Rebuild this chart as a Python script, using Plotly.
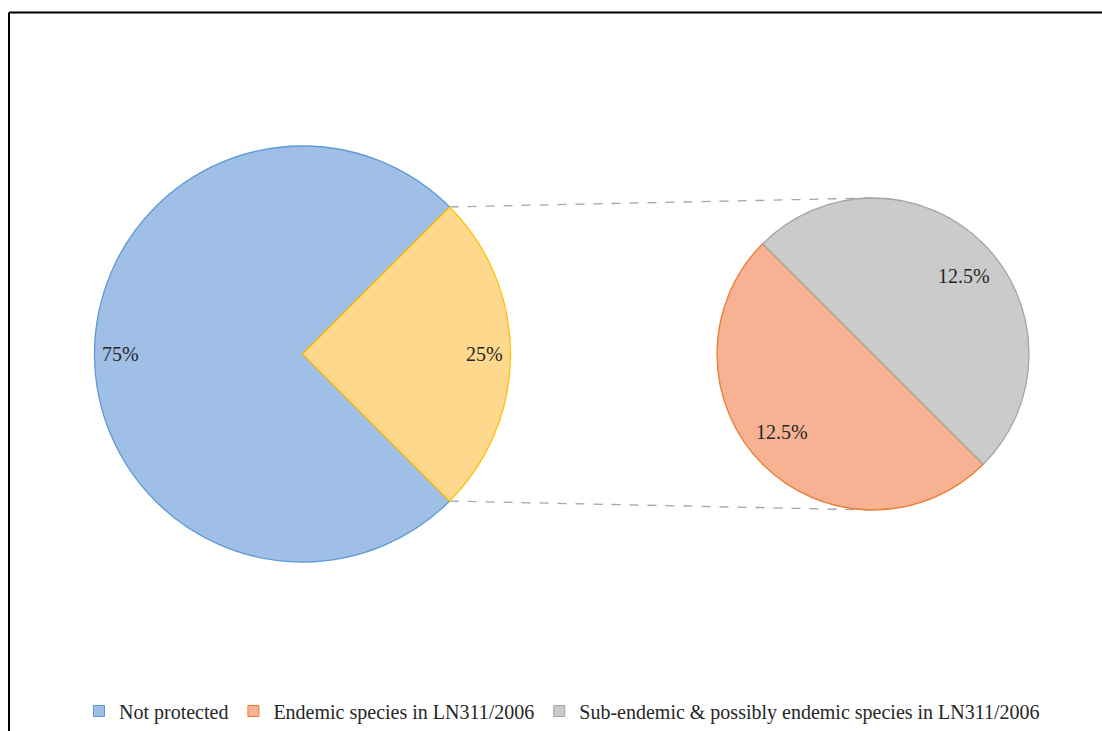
import math
import plotly.graph_objects as go

# ---- data ----
categories = ["Not protected", "Endemic species in LN311/2006",
              "Sub-endemic & possibly endemic species in LN311/2006"]
values = [75, 12.5, 12.5]
protected_label = "Protected"

# ---- style ----
fill_colors = ["#a0bfe6", "#f6b292", "#cbcbcb"]
line_colors = ["#5b9bd5", "#ed7d31", "#a5a5a5"]
protected_fill = "#fed88d"
protected_line = "#ffc000"
FONT = "Liberation Serif"

W, H = 1102, 731
ROT = 135  # clockwise start, degrees from 12 o'clock

# pie geometry in page pixels
L_CX, L_CY, L_R = 302.5, 354, 208
R_CX, R_CY, R_R = 873, 354, 156


def px_x(x):
    return x / W


def px_y(y):
    return 1 - y / H


def domain(cx, cy, r):
    return dict(x=[px_x(cx - r), px_x(cx + r)], y=[px_y(cy + r), px_y(cy - r)])


total = sum(values)
left_vals = [values[0], sum(values[1:])]
right_vals = values[1:]

fig = go.Figure()
fig.add_trace(go.Pie(
    labels=[categories[0], protected_label], values=left_vals,
    sort=False, direction="clockwise", rotation=ROT,
    domain=domain(L_CX, L_CY, L_R), textinfo="none", hoverinfo="label+percent",
    marker=dict(colors=[fill_colors[0], protected_fill],
                line=dict(color=[line_colors[0], protected_line], width=1.3)),
    showlegend=False,
))
fig.add_trace(go.Pie(
    labels=categories[1:], values=right_vals,
    sort=False, direction="clockwise", rotation=ROT,
    domain=domain(R_CX, R_CY, R_R), textinfo="none", hoverinfo="label+value",
    marker=dict(colors=fill_colors[1:], line=dict(color=line_colors[1:], width=1.3)),
    showlegend=False,
))

# legend entries
for name, fc, lc in zip(categories, fill_colors, line_colors):
    fig.add_trace(go.Scatter(
        x=[None], y=[None], mode="markers", name=name,
        marker=dict(symbol="square", size=11, color=fc, line=dict(color=lc, width=1)),
    ))


def label_annotations(vals, cx, cy, r, frac, turn=0.0):
    anns = []
    start = ROT
    for v in vals:
        span = v / sum(vals) * 360
        mid = start + span / 2 + turn
        ang = math.radians(90 - mid)
        x = cx + frac * r * math.cos(ang)
        y = cy - frac * r * math.sin(ang)
        anns.append(dict(x=px_x(x), y=px_y(y), xref="paper", yref="paper",
                         xanchor="center", yanchor="middle",
                         text=f"{v / total * 100:g}%", showarrow=False,
                         font=dict(family=FONT, size=20, color="#262626")))
        start += span
    return anns


annotations = label_annotations(left_vals, L_CX, L_CY, L_R, 0.875)
annotations += label_annotations(right_vals, R_CX, R_CY, R_R, 0.77, turn=4.5)

# connector lines from the protected slice edges to the secondary pie
prot_start = ROT + left_vals[0] / sum(left_vals) * 360
shapes = []
for a_clock, ty in [(prot_start, R_CY - R_R),
                    (prot_start + left_vals[1] / sum(left_vals) * 360, R_CY + R_R)]:
    ang = math.radians(90 - a_clock)
    x0 = L_CX + L_R * math.cos(ang)
    y0 = L_CY - L_R * math.sin(ang)
    shapes.append(dict(type="line", xref="paper", yref="paper",
                       x0=px_x(x0), y0=px_y(y0), x1=px_x(R_CX), y1=px_y(ty),
                       line=dict(color="#a6a6a6", width=1.3, dash="dash"), layer="below"))

# chart border: only the top and left edges are inside the picture
border = dict(color="#000000", width=2)
shapes.append(dict(type="line", xref="paper", yref="paper",
                   x0=px_x(9), y0=px_y(12.5), x1=1.05, y1=px_y(12.5), line=border))
shapes.append(dict(type="line", xref="paper", yref="paper",
                   x0=px_x(9), y0=px_y(12.5), x1=px_x(9), y1=-0.05, line=border))

fig.update_layout(
    width=W, height=H,
    margin=dict(l=0, r=0, t=0, b=0),
    paper_bgcolor="white", plot_bgcolor="white",
    xaxis=dict(visible=False), yaxis=dict(visible=False),
    font=dict(family=FONT, size=20, color="#262626"),
    annotations=annotations, shapes=shapes,
    showlegend=True,
    legend=dict(orientation="h", x=px_x(562), xanchor="center", y=px_y(711), yanchor="middle",
                font=dict(family=FONT, size=20, color="#262626"),
                itemwidth=30, bgcolor="rgba(0,0,0,0)"),
)

fig.write_html(
    "out.html",
    config={"displayModeBar": False},
    post_script="document.body.style.margin='0';document.body.style.overflow='hidden';",
)
